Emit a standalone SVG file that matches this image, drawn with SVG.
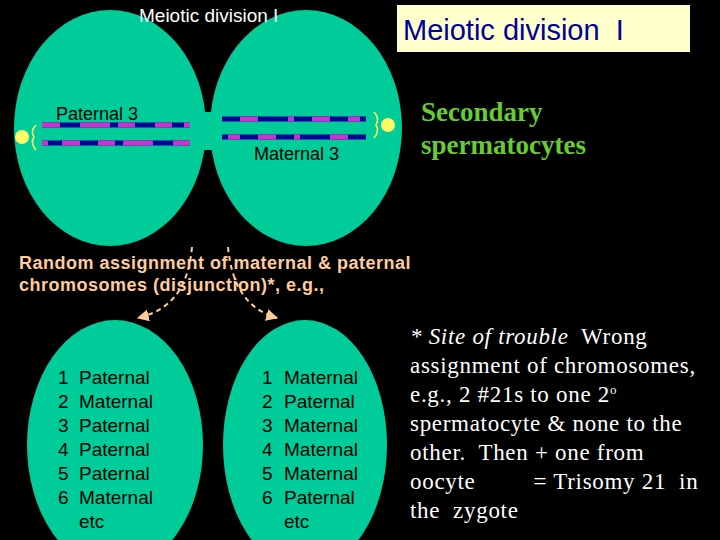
<svg xmlns="http://www.w3.org/2000/svg" width="720" height="540" viewBox="0 0 720 540">
<style>
.s{font-family:"Liberation Sans",Arial,sans-serif}
.r{font-family:"Liberation Serif","Times New Roman",serif}
.cell{fill:#00cc99}
.b{stroke:#000099;stroke-width:5}
.m{stroke:#cc33cc;stroke-width:5}
.lst{font-family:"Liberation Sans",Arial,sans-serif;font-size:19px;fill:#000}
.o{font-family:"Liberation Sans",Arial,sans-serif;font-size:18px;font-weight:bold;fill:#ffcc99;letter-spacing:0.5px}
</style>
<defs><marker id="ah" viewBox="0 0 10 10" refX="9" refY="5" markerWidth="6" markerHeight="6" orient="auto"><path d="M0,0L10,5L0,10z" fill="#ffcc99"/></marker></defs>
<rect width="720" height="540" fill="#000"/>
<g id="cell-left"><ellipse class="cell" cx="110" cy="128" rx="96" ry="118"/></g>
<g id="cell-right"><ellipse class="cell" cx="306" cy="128" rx="96" ry="118"/></g>
<rect class="cell" x="195" y="112" width="22" height="38"/>
<g id="chrom-left">
<line class="b" x1="42" y1="125" x2="190" y2="125"/>
<g class="m"><line x1="42" y1="125" x2="60" y2="125"/><line x1="80" y1="125" x2="110" y2="125"/><line x1="118" y1="125" x2="135" y2="125"/><line x1="155" y1="125" x2="172" y2="125"/><line x1="184" y1="125" x2="190" y2="125"/></g>
<line class="b" x1="42" y1="143" x2="190" y2="143"/>
<g class="m"><line x1="42" y1="143" x2="48" y2="143"/><line x1="62" y1="143" x2="80" y2="143"/><line x1="98" y1="143" x2="115" y2="143"/><line x1="123" y1="143" x2="153" y2="143"/><line x1="173" y1="143" x2="190" y2="143"/></g>
<circle cx="22" cy="137" r="7" fill="#ffff66"/>
<path d="M36,125q-6,6 -2,12q-4,6 2,13" fill="none" stroke="#ffff66" stroke-width="1.5"/>
<text class="s" x="56" y="120" font-size="18">Paternal 3</text>
</g>
<g id="chrom-right">
<line class="b" x1="222" y1="119" x2="366" y2="119"/>
<g class="m"><line x1="240" y1="119" x2="258" y2="119"/><line x1="288" y1="119" x2="294" y2="119"/><line x1="312" y1="119" x2="330" y2="119"/><line x1="348" y1="119" x2="360" y2="119"/></g>
<line class="b" x1="222" y1="137" x2="366" y2="137"/>
<g class="m"><line x1="228" y1="137" x2="240" y2="137"/><line x1="258" y1="137" x2="276" y2="137"/><line x1="294" y1="137" x2="300" y2="137"/><line x1="330" y1="137" x2="348" y2="137"/></g>
<circle cx="388" cy="125" r="7" fill="#ffff66"/>
<path d="M374,112q6,6 2,13q4,6 -2,13" fill="none" stroke="#ffff66" stroke-width="1.5"/>
<text class="s" x="254" y="160" font-size="18">Maternal 3</text>
</g>
<text class="s" x="139" y="22" font-size="19" fill="#fff">Meiotic division I</text>
<g id="title"><rect x="397" y="5" width="293" height="47" fill="#ffffcc"/><text class="s" x="403" y="40" font-size="29" fill="#000099">Meiotic division&#160; I</text></g>
<text class="r" x="421" y="121" font-size="27" font-weight="bold" fill="#66cc33">Secondary</text>
<text class="r" x="421" y="154" font-size="27" font-weight="bold" fill="#66cc33">spermatocytes</text>
<text class="o" x="19" y="269">Random assignment of maternal &amp; paternal</text>
<text class="o" x="19" y="291">chromosomes (disjunction)*, e.g.,</text>
<g id="connectors" fill="none" stroke="#ffcc99" stroke-width="2" stroke-dasharray="5,4">
<path d="M192,247C188,290 170,310 138,318" marker-end="url(#ah)"/>
<path d="M228,247C232,290 250,310 277,318" marker-end="url(#ah)"/>
</g>
<g id="cell-bl"><ellipse class="cell" cx="115" cy="445" rx="88" ry="125"/>
<text class="lst" x="58" y="384">1</text><text class="lst" x="58" y="408">2</text><text class="lst" x="58" y="432">3</text><text class="lst" x="58" y="456">4</text><text class="lst" x="58" y="480">5</text><text class="lst" x="58" y="504">6</text>
<text class="lst" x="79" y="384">Paternal</text><text class="lst" x="79" y="408">Maternal</text><text class="lst" x="79" y="432">Paternal</text><text class="lst" x="79" y="456">Paternal</text><text class="lst" x="79" y="480">Paternal</text><text class="lst" x="79" y="504">Maternal</text><text class="lst" x="79" y="528" font-size="17">etc</text></g>
<g id="cell-br"><ellipse class="cell" cx="305" cy="445" rx="82" ry="125"/>
<text class="lst" x="262" y="384">1</text><text class="lst" x="262" y="408">2</text><text class="lst" x="262" y="432">3</text><text class="lst" x="262" y="456">4</text><text class="lst" x="262" y="480">5</text><text class="lst" x="262" y="504">6</text>
<text class="lst" x="284" y="384">Maternal</text><text class="lst" x="284" y="408">Paternal</text><text class="lst" x="284" y="432">Maternal</text><text class="lst" x="284" y="456">Maternal</text><text class="lst" x="284" y="480">Maternal</text><text class="lst" x="284" y="504">Paternal</text><text class="lst" x="284" y="528" font-size="17">etc</text></g>
<g class="r" font-size="23" fill="#fff" letter-spacing="0.7">
<text x="410" y="344"><tspan font-style="italic">* Site of trouble</tspan>&#160; Wrong</text>
<text x="410" y="373">assignment of chromosomes,</text>
<text x="410" y="402">e.g., 2 #21s to one 2<tspan font-size="13" dy="-8">o</tspan></text>
<text x="410" y="431">spermatocyte &amp; none to the</text>
<text x="410" y="460">other.&#160; Then + one from</text>
<text x="410" y="489">oocyte&#160;&#160;&#160;&#160;&#160;&#160;&#160;&#160; = Trisomy 21&#160; in</text>
<text x="410" y="518">the&#160; zygote</text>
</g>
</svg>
